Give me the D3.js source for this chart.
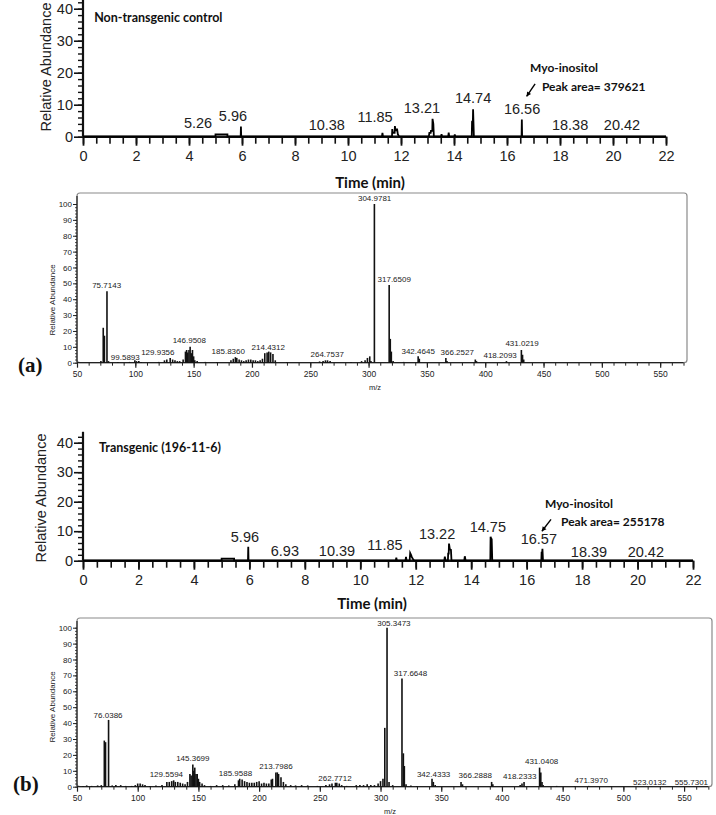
<!DOCTYPE html>
<html><head><meta charset="utf-8">
<script src="https://cdn.jsdelivr.net/npm/d3@7/dist/d3.min.js"></script>
<style>body{margin:0;background:#fff}svg{display:block}</style>
</head><body><svg id="c" width="716" height="815"></svg>
<script>
// ---------- DATA ----------
// Chromatogram (a) non-transgenic control: trace points (time min, relative abundance)
const chromA_time = [0,5.0,5.0,5.45,5.45,5.95,5.96,5.97,11.28,11.3,11.32,11.66,11.67,11.69,11.76,11.77,11.79,11.84,11.85,11.88,11.93,13.05,13.07,13.12,13.13,13.18,13.19,13.22,13.24,13.51,13.53,13.55,13.78,13.8,13.82,14.01,14.03,14.05,14.67,14.68,14.71,14.72,14.75,16.55,16.56,16.57,22];
const chromA_abund = [0,0,0.7,0.7,0,0,3.2,0,0,1.2,0,0,2.4,1.2,1.2,3.3,2.0,2.0,2.5,0.8,0,0,1.2,1.2,1.8,1.8,5.6,4.0,0,0,0.8,0,0,1.3,0,0,0.7,0,0,4.2,3.8,8.6,0,0,5.4,0,0];
const chromA_labels = ["5.26","5.96","10.38","11.85","13.21","14.74","16.56","18.38","20.42"];
const chromA_labelTime = [4.34,5.66,9.2,11.02,12.79,14.72,16.57,18.38,20.34];
const chromA_labelLevel = [2.7,4.9,2.1,4.6,7.4,10.5,7.1,2.1,2.1];

// Chromatogram (b) transgenic
const chromB_time = [0,5.0,5.0,5.45,5.45,5.95,5.96,5.97,11.28,11.3,11.32,11.63,11.65,11.67,11.78,11.8,11.83,11.86,11.9,11.95,13.03,13.05,13.08,13.16,13.17,13.19,13.2,13.23,13.24,13.27,13.29,13.75,13.77,13.8,14.69,14.7,14.73,14.74,14.76,16.53,16.54,16.56,16.57,16.59,22];
const chromB_abund = [0,0,0.7,0.7,0,0,4.7,0,0,1.0,0,0,1.3,0,0,2.6,2.0,1.2,0.6,0,0,1.4,0,0,2.4,2.4,5.8,3.8,3.8,3.7,0,0,1.5,0,0,8.1,7.2,7.2,0,0,2.7,2.7,4.0,0,0];
const chromB_labels = ["5.96","6.93","10.39","11.85","13.22","14.75","16.57","18.39","20.42"];
const chromB_labelTime = [5.84,7.28,9.16,10.89,12.77,14.6,16.44,18.25,20.3];
const chromB_labelLevel = [6.3,1.7,1.6,3.6,7.4,9.7,5.7,1.3,1.3];

const chromXTicks = [0,2,4,6,8,10,12,14,16,18,20,22];
const chromYTicks = [0,10,20,30,40];

// Mass spectrum (a)
const msA_mz  = [70.5,72.5,73.5,75.7,77,85,95,99.6,101,103,105,120,125,127,129.9,132,134,136,138,141,143,144,145,146,147,148,149,150,151,153,160,170,182,184,185.8,187,189,191,193,195,197,199,201,203,205,207,209,211,213,214.4,216,218,220,230,258,261,263,264.8,267,285,294,297,299,301,302,304.98,317.65,318.6,319.5,321,330,342.5,343.5,366.25,367.2,391.5,392.5,418.2,431,432,433];
const msA_int = [1,22,17,45,1,0.5,0.5,1.5,1,1,0.5,0.5,1.5,2,3,2,1.5,1,1,2,7,8,6.5,8,10,6,8,4,1.5,1,0.5,0.5,1.5,2.5,3.5,3,2,1.5,1,1.5,2,2,1.5,1.5,1,1.5,2.5,6,6.5,7,6.5,5.5,1.5,0.5,0.8,1,1.5,1.5,1,0.5,1,1.5,3,4,1,100,49,15,7,1,0.5,4,2.5,3,1,2,1,1,8,5,2];
const msA_labels = ["75.7143","99.5893","129.9356","146.9508","185.8360","214.4312","264.7537","304.9781","317.6509","342.4645","366.2527","418.2093","431.0219"];
const msA_labelMz = [75.4,91.4,119.3,146.3,179.7,214,264.5,305.2,322,342.5,376,412.8,431.6];
const msA_labelLevel = [47,1.9,5,12.4,5.7,8.2,3.4,102,50.7,5.5,5,3,10.3];

// Mass spectrum (b)
const msB_mz  = [55,58,62,67,70,72.5,73.5,76,79,82,86,90,95,98,100,102,104,106,110,115,120,124,126,128,129.6,131,133,135,137,139,141,143,144,145.4,146,147,148,149,150,151,153,155,160,165,170,175,180,183,184,186,188,190,192,194,196,198,200,202,204,206,208,210,211,213.8,215,216,218,220,222,226,230,235,240,248,255,258,260,262.8,264,266,268,272,280,283,286,289,292,295,298,300,302,303.5,305.35,307,310,317.66,318.8,319.6,321,325,330,342.4,343.5,345,366.3,367.5,391.5,392.5,415,416.5,418.2,431,432,433,434,445,460,471.4,490,523];
const msB_int = [0.5,0.8,0.5,0.8,1,29,28,42,0.8,1,1,0.5,0.5,1,2,2,1.5,1,0.5,0.8,1,3,3,3.5,4,3,3,2.5,2,1.5,3,8,7,14,10,12,8,8,5,3,2,1,0.5,1,1,0.8,1.5,4,5,4.5,3.5,3,2.5,2.5,2.5,3,3.5,2,2.5,2,2,4.5,5,9,9,8,6,3,1.5,1,0.8,1,0.8,0.5,1,1.5,2,2.5,2.5,2,1,0.5,1,1,1,1.5,1,1,2,3.5,5,37,100,3,1,68,21,13,1.5,0.8,0.5,5,3,1,3,1.5,3,1.5,1,2,3,12,9,3,1,0.5,0.5,0.5,0.3,0.3];
const msB_labels = ["76.0386","129.5594","145.3699","185.9588","213.7986","262.7712","305.3473","317.6648","342.4333","366.2888","418.2333","431.0408","471.3970","523.0132","555.7301"];
const msB_labelMz = [75.6,123.6,145.4,180.5,213.9,262.5,311,324.7,343.7,378,414.6,432.7,473.5,521.7,556];
const msB_labelLevel = [43.2,5.9,16,6.9,11.1,3.8,100.9,69.4,5.9,5.5,4.8,14.5,2.3,1.3,1.3];

const msXTicks = [50,100,150,200,250,300,350,400,450,500,550];
const msYTicks = [0,10,20,30,40,50,60,70,80,90,100];

// ---------- DRAWING ----------
const svg = d3.select("#c");
const SANS = "'Liberation Sans', Arial, sans-serif";
const CAL = "Lato, 'Open Sans', sans-serif";

function chrom(o) {
  const x = d3.scaleLinear().domain([0,22]).range([o.x0, o.x1]);
  const y = d3.scaleLinear().domain([0,40]).range([o.y0, o.y40]);
  const g = svg.append("g");
  g.append("g").attr("transform",`translate(${o.x0},0)`)
    .call(d3.axisLeft(y).tickValues(d3.range(0,43,2)).tickSize(5).tickFormat(""))
    .call(a=>a.select(".domain").remove())
    .selectAll("line").attr("stroke","#111").attr("stroke-width",1.4);
  const ya = g.append("g").attr("transform",`translate(${o.x0},0)`)
    .call(d3.axisLeft(y).tickValues(chromYTicks).tickSize(9).tickPadding(1))
    .call(a=>a.select(".domain").remove());
  ya.selectAll("line").attr("stroke","#111").attr("stroke-width",1.6);
  ya.selectAll("text").attr("font-family",SANS).attr("font-size",14.5).attr("fill","#222");
  g.append("line").attr("x1",o.x0).attr("x2",o.x0).attr("y1",y(0)).attr("y2",y(o.yTop))
    .attr("stroke","#111").attr("stroke-width",2.2);
  g.append("g").attr("transform",`translate(0,${o.y0})`)
    .call(d3.axisBottom(x).tickValues(d3.range(0,22.01,0.5)).tickSize(7).tickFormat(""))
    .call(a=>a.select(".domain").remove())
    .selectAll("line").attr("stroke","#111").attr("stroke-width",1.6);
  const xa = g.append("g").attr("transform",`translate(0,${o.y0})`)
    .call(d3.axisBottom(x).tickValues(chromXTicks).tickSize(9).tickPadding(5))
    .call(a=>a.select(".domain").remove());
  xa.selectAll("line").attr("stroke","#111").attr("stroke-width",1.8);
  xa.selectAll("text").attr("font-family",SANS).attr("font-size",14.5).attr("fill","#222");
  g.append("line").attr("x1",x(0)).attr("x2",x(22)).attr("y1",o.y0).attr("y2",o.y0)
    .attr("stroke","#111").attr("stroke-width",2.6);
  const pts = o.t.map((t,i)=>[t,o.v[i]]);
  g.append("path").datum(pts)
    .attr("d", d3.line().x(d=>x(d[0])).y(d=>y(d[1])))
    .attr("fill","none").attr("stroke","#000").attr("stroke-width",1.8).attr("stroke-linejoin","miter");
  g.selectAll(".pl").data(o.labels).join("text")
    .attr("x",(d,i)=>x(o.lt[i])).attr("y",(d,i)=>y(o.ll[i]))
    .attr("text-anchor","middle").attr("font-family",SANS).attr("font-size",14.5)
    .attr("fill","#222").text(d=>d);
  g.append("text").attr("transform",`translate(${o.ytx},${o.yty}) rotate(-90)`)
    .attr("text-anchor","middle").attr("font-family",SANS).attr("font-size",14.5)
    .attr("fill","#222").text("Relative Abundance");
  g.append("text").attr("x",o.xtx).attr("y",o.xty).attr("text-anchor","middle")
    .attr("font-family",CAL).attr("font-weight","bold").attr("font-size",15)
    .attr("fill","#111").text("Time (min)");
  g.append("text").attr("x",x(o.titleT)).attr("y",y(o.titleV))
    .attr("font-family",CAL).attr("font-weight","bold").attr("font-size",12.5)
    .attr("fill","#111").text(o.title);
  g.append("text").attr("x",x(o.myoT)).attr("y",y(o.myoV))
    .attr("font-family",CAL).attr("font-weight","bold").attr("font-size",12)
    .attr("fill","#111").text("Myo-inositol");
  g.append("text").attr("x",x(o.areaT)).attr("y",y(o.areaV))
    .attr("font-family",CAL).attr("font-weight","bold").attr("font-size",12)
    .attr("fill","#111").text(o.area);
  const ax1=x(o.arr[0]), ay1=y(o.arr[1]), ax2=x(o.arr[2]), ay2=y(o.arr[3]);
  g.append("line").attr("x1",ax1).attr("y1",ay1).attr("x2",ax2).attr("y2",ay2)
    .attr("stroke","#000").attr("stroke-width",1.4);
  const ang=Math.atan2(ay2-ay1,ax2-ax1), L=5;
  g.append("path").attr("d",`M${ax2},${ay2}L${ax2-L*Math.cos(ang-0.5)},${ay2-L*Math.sin(ang-0.5)}L${ax2-L*Math.cos(ang+0.5)},${ay2-L*Math.sin(ang+0.5)}Z`)
    .attr("fill","#000");
}

function ms(o) {
  const x = d3.scaleLinear().domain([50,573]).range([o.x0, o.x1]);
  const y = d3.scaleLinear().domain([0,100]).range([o.y0, o.y100]);
  const g = svg.append("g");
  g.append("rect").attr("x",o.x0).attr("y",o.top).attr("width",o.x1-o.x0).attr("height",o.y0-o.top)
    .attr("rx",3).attr("fill","none").attr("stroke","#8a8a8a").attr("stroke-width",1.2);
  g.append("g").attr("transform",`translate(${o.x0},0)`)
    .call(d3.axisLeft(y).tickValues(d3.range(0,101,2)).tickSize(2).tickFormat(""))
    .call(a=>a.select(".domain").remove())
    .selectAll("line").attr("stroke","#222").attr("stroke-width",0.8);
  const ya = g.append("g").attr("transform",`translate(${o.x0},0)`)
    .call(d3.axisLeft(y).tickValues(msYTicks).tickSize(4).tickPadding(1))
    .call(a=>a.select(".domain").remove());
  ya.selectAll("line").attr("stroke","#222").attr("stroke-width",1);
  ya.selectAll("text").attr("font-family",SANS).attr("font-size",8).attr("fill","#222");
  g.append("line").attr("x1",o.x0).attr("x2",o.x0).attr("y1",o.y0).attr("y2",o.top+3)
    .attr("stroke","#222").attr("stroke-width",1.2);
  g.append("g").attr("transform",`translate(0,${o.y0})`)
    .call(d3.axisBottom(x).tickValues(d3.range(50,571,10)).tickSize(3).tickFormat(""))
    .call(a=>a.select(".domain").remove())
    .selectAll("line").attr("stroke","#222").attr("stroke-width",1);
  const xa = g.append("g").attr("transform",`translate(0,${o.y0})`)
    .call(d3.axisBottom(x).tickValues(msXTicks).tickSize(5).tickPadding(3))
    .call(a=>a.select(".domain").remove());
  xa.selectAll("line").attr("stroke","#222").attr("stroke-width",1.2);
  xa.selectAll("text").attr("font-family",SANS).attr("font-size",8.5).attr("fill","#222");
  g.append("line").attr("x1",o.x0).attr("x2",x(570)).attr("y1",o.y0).attr("y2",o.y0)
    .attr("stroke","#222").attr("stroke-width",1.3);
  g.selectAll(".b").data(o.mz).join("line")
    .attr("x1",d=>x(d)).attr("x2",d=>x(d)).attr("y1",y(0))
    .attr("y2",(d,i)=>y(o.int[i])).attr("stroke","#111").attr("stroke-width",1.6);
  g.selectAll(".l").data(o.labels).join("text")
    .attr("x",(d,i)=>x(o.lm[i])).attr("y",(d,i)=>y(o.ll[i]))
    .attr("text-anchor","middle").attr("font-family",SANS).attr("font-size",8)
    .attr("fill","#222").text(d=>d);
  g.append("text").attr("transform",`translate(${o.ytx},${o.yty}) rotate(-90)`)
    .attr("text-anchor","middle").attr("font-family",SANS).attr("font-size",8)
    .attr("fill","#222").text("Relative Abundance");
  g.append("text").attr("x",o.mzx).attr("y",o.mzy).attr("text-anchor","middle")
    .attr("font-family",SANS).attr("font-size",7.5).attr("fill","#222").text("m/z");
  g.append("text").attr("x",o.px).attr("y",o.py).attr("font-family","'Liberation Serif', 'Times New Roman', serif")
    .attr("font-weight","bold").attr("font-size",21).attr("fill","#111").text(o.panel);
}

chrom({x0:83,x1:666,y0:136.7,y40:8.7,yTop:42.8,t:chromA_time,v:chromA_abund,
  labels:chromA_labels,lt:chromA_labelTime,ll:chromA_labelLevel,
  ytx:51,yty:67,xtx:370,xty:188,title:"Non-transgenic  control",titleT:0.42,titleV:35.8,
  myoT:16.87,myoV:20.2,areaT:17.32,areaV:14.3,area:"Peak area= 379621",arr:[17.06,16.5,16.74,12.6]});
ms({x0:77,x1:687,y0:362.7,y100:204,top:193,mz:msA_mz,int:msA_int,labels:msA_labels,lm:msA_labelMz,ll:msA_labelLevel,
  ytx:55,yty:300,mzx:375,mzy:390,px:18,py:372,panel:"(a)"});
chrom({x0:83,x1:693,y0:560.7,y40:442.7,yTop:43.7,t:chromB_time,v:chromB_abund,
  labels:chromB_labels,lt:chromB_labelTime,ll:chromB_labelLevel,
  ytx:46,yty:498,xtx:372,xty:609,title:"Transgenic  (196-11-6)",titleT:0.58,titleV:36.8,
  myoT:16.66,myoV:17.9,areaT:17.24,areaV:11.8,area:"Peak area= 255178",arr:[16.88,14,16.55,10]});
ms({x0:77,x1:712,y0:786.7,y100:627.7,top:618,mz:msB_mz,int:msB_int,labels:msB_labels,lm:msB_labelMz,ll:msB_labelLevel,
  ytx:55,yty:707,mzx:390,mzy:814,px:13,py:791,panel:"(b)"});
</script></body></html>
